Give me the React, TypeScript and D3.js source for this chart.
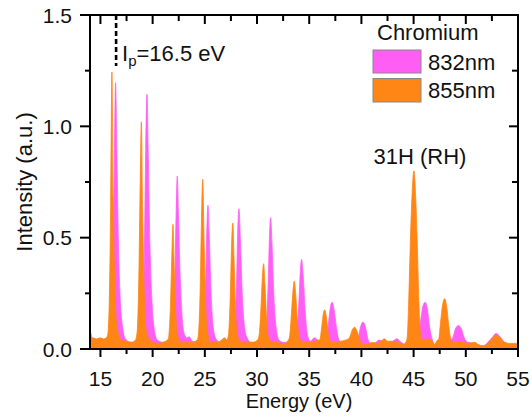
import React from "react";
import * as d3 from "d3";

// Energy (eV), Intensity (a.u.) — 832 nm driver
const series832: [number, number][] = [
  [14.0, 0.09], [14.2, 0.05], [14.6, 0.03], [15.2, 0.03], [15.8, 0.035],
  [16.05, 0.06], [16.22, 0.35], [16.35, 0.9], [16.45, 1.196], [16.57, 0.9], [16.72, 0.48], [16.9, 0.22], [17.12, 0.1], [17.4, 0.045], [17.9, 0.03], [18.5, 0.03],
  [19.0, 0.06], [19.2, 0.4], [19.34, 0.9], [19.46, 1.144], [19.58, 0.88], [19.74, 0.47], [19.93, 0.22], [20.15, 0.09], [20.45, 0.04], [21.0, 0.03], [21.6, 0.03],
  [21.92, 0.06], [22.12, 0.3], [22.26, 0.63], [22.36, 0.777], [22.48, 0.6], [22.64, 0.32], [22.83, 0.14], [23.05, 0.065], [23.3, 0.05], [23.5, 0.055], [23.8, 0.035], [24.4, 0.03],
  [24.88, 0.06], [25.07, 0.28], [25.2, 0.55], [25.3, 0.645], [25.42, 0.52], [25.58, 0.27], [25.78, 0.11], [26.02, 0.05], [26.4, 0.03], [27.2, 0.03],
  [27.83, 0.06], [28.03, 0.28], [28.16, 0.54], [28.27, 0.63], [28.4, 0.5], [28.58, 0.25], [28.8, 0.1], [29.05, 0.05], [29.4, 0.03], [30.2, 0.03],
  [30.83, 0.05], [31.05, 0.27], [31.19, 0.5], [31.3, 0.59], [31.43, 0.48], [31.62, 0.23], [31.85, 0.09], [32.1, 0.04], [32.5, 0.03], [33.3, 0.03],
  [33.77, 0.05], [34.0, 0.2], [34.15, 0.35], [34.27, 0.402], [34.42, 0.33], [34.63, 0.16], [34.85, 0.06], [35.1, 0.035], [35.5, 0.05], [35.8, 0.04], [36.3, 0.03],
  [36.68, 0.05], [36.9, 0.14], [37.06, 0.195], [37.2, 0.21], [37.37, 0.18], [37.6, 0.1], [37.85, 0.04], [38.2, 0.02], [38.8, 0.03], [39.4, 0.03],
  [39.65, 0.04], [39.92, 0.1], [40.15, 0.121], [40.38, 0.1], [40.65, 0.04], [40.95, 0.02], [41.4, 0.03], [41.7, 0.04], [42.2, 0.03], [42.8, 0.03], [43.4, 0.046], [43.8, 0.03], [44.3, 0.02], [44.8, 0.02], [45.2, 0.03],
  [45.45, 0.04], [45.66, 0.12], [45.88, 0.19], [46.1, 0.21], [46.32, 0.18], [46.53, 0.1], [46.8, 0.04], [47.05, 0.02], [47.5, 0.02], [48.0, 0.03], [48.5, 0.04],
  [48.75, 0.05], [49.0, 0.09], [49.3, 0.106], [49.58, 0.09], [49.85, 0.05], [50.2, 0.03], [50.8, 0.025], [51.3, 0.012], [51.7, 0.012], [52.1, 0.03], [52.5, 0.05], [52.9, 0.07], [53.2, 0.06], [53.6, 0.035], [54.2, 0.02], [55.0, 0.02],
];

// Energy (eV), Intensity (a.u.) — 855 nm driver
const series855: [number, number][] = [
  [14.0, 0.04], [14.3, 0.05], [14.6, 0.045], [15.0, 0.05], [15.3, 0.045], [15.55, 0.05],
  [15.7, 0.065], [15.85, 0.22], [15.98, 0.65], [16.1, 1.244], [16.22, 0.68], [16.36, 0.3], [16.52, 0.13], [16.78, 0.06], [17.05, 0.04], [17.5, 0.035], [18.0, 0.03], [18.35, 0.04],
  [18.52, 0.08], [18.68, 0.33], [18.81, 0.75], [18.92, 1.02], [19.04, 0.62], [19.18, 0.28], [19.34, 0.1], [19.6, 0.05], [20.0, 0.03], [20.5, 0.025], [21.0, 0.03], [21.4, 0.04],
  [21.52, 0.05], [21.7, 0.19], [21.84, 0.42], [21.95, 0.56], [22.07, 0.36], [22.22, 0.15], [22.4, 0.06], [22.7, 0.03], [23.2, 0.03], [23.8, 0.03], [24.25, 0.04],
  [24.38, 0.06], [24.55, 0.26], [24.68, 0.58], [24.8, 0.762], [24.92, 0.5], [25.08, 0.2], [25.28, 0.07], [25.6, 0.03], [26.2, 0.03], [26.6, 0.04], [26.9, 0.05], [27.1, 0.04], [27.2, 0.05],
  [27.28, 0.07], [27.44, 0.24], [27.56, 0.46], [27.68, 0.566], [27.8, 0.4], [27.96, 0.15], [28.15, 0.06], [28.5, 0.03], [29.0, 0.03], [29.6, 0.03], [30.05, 0.04],
  [30.22, 0.07], [30.38, 0.19], [30.51, 0.32], [30.63, 0.383], [30.76, 0.29], [30.93, 0.12], [31.12, 0.05], [31.5, 0.03], [32.0, 0.03], [32.5, 0.02], [33.0, 0.04],
  [33.13, 0.06], [33.3, 0.16], [33.44, 0.26], [33.57, 0.305], [33.7, 0.25], [33.87, 0.12], [34.06, 0.05], [34.4, 0.03], [34.9, 0.03], [35.4, 0.03], [35.9, 0.04],
  [36.0, 0.04], [36.2, 0.1], [36.36, 0.16], [36.48, 0.176], [36.62, 0.15], [36.82, 0.07], [37.05, 0.035], [37.5, 0.03], [38.0, 0.035], [38.5, 0.04],
  [38.85, 0.05], [39.12, 0.085], [39.35, 0.098], [39.58, 0.08], [39.85, 0.04], [40.2, 0.02], [40.6, 0.02], [41.0, 0.03], [41.5, 0.025], [42.0, 0.04], [42.2, 0.046], [42.5, 0.035], [43.0, 0.035], [43.5, 0.03], [44.0, 0.02], [44.25, 0.03],
  [44.38, 0.05], [44.52, 0.2], [44.67, 0.45], [44.84, 0.68], [45.03, 0.8], [45.2, 0.68], [45.36, 0.46], [45.5, 0.22], [45.66, 0.07], [45.9, 0.04], [46.3, 0.045], [46.7, 0.04], [47.0, 0.02], [47.3, 0.04],
  [47.38, 0.04], [47.58, 0.12], [47.78, 0.2], [47.97, 0.226], [48.17, 0.19], [48.38, 0.1], [48.6, 0.04], [48.9, 0.03], [49.3, 0.035], [49.8, 0.03], [50.3, 0.025], [50.85, 0.03], [51.2, 0.02], [51.6, 0.015], [52.0, 0.02], [52.4, 0.04], [52.8, 0.06], [53.0, 0.062], [53.3, 0.05], [53.7, 0.03], [54.2, 0.025], [55.0, 0.025],
];

const xMajorTicks = [15, 20, 25, 30, 35, 40, 45, 50, 55];
const xMinorTicks = [17.5, 22.5, 27.5, 32.5, 37.5, 42.5, 47.5, 52.5];
const yMajorTicks = [0.0, 0.5, 1.0, 1.5];
const yMinorTicks = [0.25, 0.75, 1.25];
const legendTitle = "Chromium";
const legendLabels = ["832nm", "855nm"];
const ionizationPotential = 16.5;

const W = 532;
const H = 418;
const M = { left: 90, right: 518, top: 15, bottom: 349 };
const C832 = "#ff5ef5";
const C855 = "#ff8514";
const FONT = "'Liberation Sans', Arial, sans-serif";

export default function App() {
  const x = d3.scaleLinear().domain([14, 55]).range([M.left, M.right]);
  const y = d3.scaleLinear().domain([0, 1.5]).range([M.bottom, M.top]);
  const area = d3
    .area<[number, number]>()
    .x((d) => x(d[0]))
    .y0(y(0))
    .y1((d) => y(d[1]))
    .curve(d3.curveMonotoneX);

  return (
    <svg width={W} height={H} style={{ position: "absolute", left: 0, top: 0, background: "#fff" }} fontFamily={FONT}>
      <defs>
        <clipPath id="plotclip">
          <rect x={M.left} y={M.top} width={M.right - M.left} height={M.bottom - M.top} />
        </clipPath>
      </defs>
      <g clipPath="url(#plotclip)">
        <path d={area(series832) || ""} fill={C832} stroke={C832} strokeWidth={0.8} />
        <path d={area(series855) || ""} fill={C855} stroke={C855} strokeWidth={0.8} />
      </g>

      {/* dashed Ip line */}
      <line x1={x(ionizationPotential)} x2={x(ionizationPotential)} y1={M.top} y2={66} stroke="#000" strokeWidth={2.6} strokeDasharray="5,3" />
      <text x={122} y={61} fontSize={22} fill="#111">
        I<tspan fontSize={15} dy={5}>p</tspan>
        <tspan dy={-5}>=16.5 eV</tspan>
      </text>

      <text x={420} y={164} fontSize={22} textAnchor="middle" fill="#111">31H (RH)</text>

      {/* legend */}
      <text x={377} y={40} fontSize={22} fill="#111">{legendTitle}</text>
      <rect x={373} y={50} width={48} height={23} fill={C832} stroke="#888" strokeWidth={1} />
      <rect x={373} y={78.5} width={48} height={23.5} fill={C855} stroke="#888" strokeWidth={1} />
      <text x={428} y={69.5} fontSize={22} fill="#111">{legendLabels[0]}</text>
      <text x={428} y={98} fontSize={22} fill="#111">{legendLabels[1]}</text>

      {/* axes frame */}
      <rect x={M.left} y={M.top} width={M.right - M.left} height={M.bottom - M.top} fill="none" stroke="#000" strokeWidth={2} />

      {/* bottom ticks (outward) & top ticks (inward) */}
      {xMajorTicks.map((t) => (
        <g key={"xM" + t}>
          <line x1={x(t)} x2={x(t)} y1={M.bottom} y2={M.bottom + 8} stroke="#000" strokeWidth={2} />
          <line x1={x(t)} x2={x(t)} y1={M.top} y2={M.top + 9} stroke="#000" strokeWidth={2} />
          <text x={x(t)} y={386} fontSize={21} textAnchor="middle" fill="#111">{t}</text>
        </g>
      ))}
      {xMinorTicks.map((t) => (
        <g key={"xm" + t}>
          <line x1={x(t)} x2={x(t)} y1={M.bottom} y2={M.bottom + 5} stroke="#000" strokeWidth={2} />
          <line x1={x(t)} x2={x(t)} y1={M.top} y2={M.top + 6} stroke="#000" strokeWidth={2} />
        </g>
      ))}

      {/* left ticks (outward) & right ticks (inward) */}
      {yMajorTicks.map((t) => (
        <g key={"yM" + t}>
          <line x1={M.left - 10} x2={M.left} y1={y(t)} y2={y(t)} stroke="#000" strokeWidth={2} />
          <line x1={M.right - 9} x2={M.right} y1={y(t)} y2={y(t)} stroke="#000" strokeWidth={2} />
          <text x={72} y={y(t) + 7.5} fontSize={21} textAnchor="end" fill="#111">{t.toFixed(1)}</text>
        </g>
      ))}
      {yMinorTicks.map((t) => (
        <g key={"ym" + t}>
          <line x1={M.left - 5} x2={M.left} y1={y(t)} y2={y(t)} stroke="#000" strokeWidth={2} />
          <line x1={M.right - 6} x2={M.right} y1={y(t)} y2={y(t)} stroke="#000" strokeWidth={2} />
        </g>
      ))}

      <text x={299} y={408} fontSize={20} textAnchor="middle" fill="#111">Energy (eV)</text>
      <text transform="translate(32,182) rotate(-90)" fontSize={22} textAnchor="middle" fill="#111">Intensity (a.u.)</text>
    </svg>
  );
}
